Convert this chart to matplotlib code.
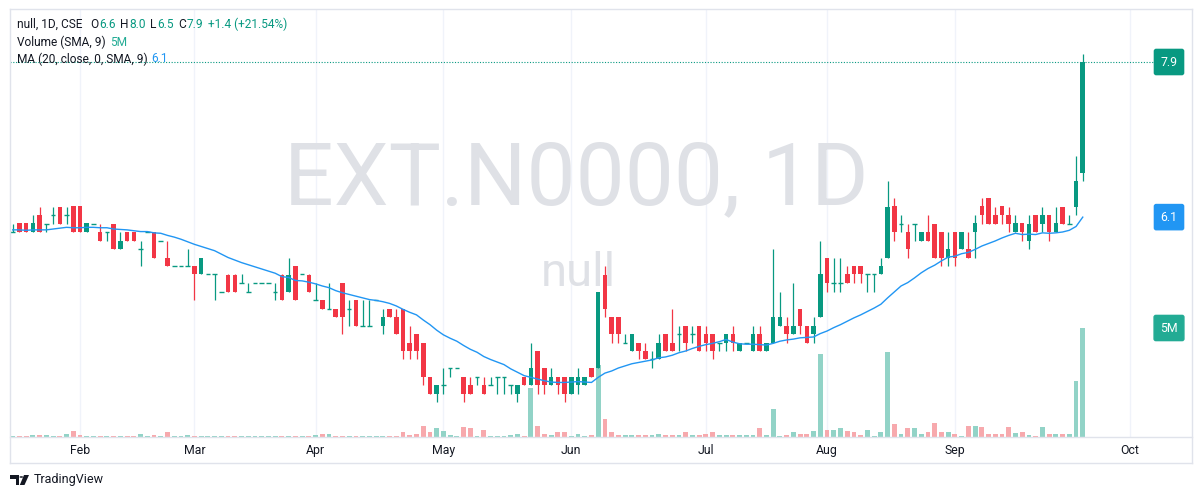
import matplotlib
matplotlib.use("Agg")
import matplotlib.pyplot as plt
from matplotlib.patches import Polygon, Circle
from matplotlib.lines import Line2D
import matplotlib.transforms as mtransforms
import numpy as np

# ---------------------------------------------------------------- data
symbol_line = "null, 1D, CSE"
watermark_main = "EXT.N0000, 1D"
watermark_sub = "null"

opens = [
    5.9, 6.0, 6.0, 5.9, 6.1, 6.0, 6.1, 6.2, 6.1, 6.2,
    6.2, 5.9, 6.0, 5.9, 5.9, 6.0, 5.7, 5.9, 5.9, 5.7,
    5.9, 5.9, 5.8, 5.6, 5.5, 5.5, 5.5, 5.5, 5.4, 5.4,
    5.4, 5.2, 5.4, 5.4, 5.3, 5.2, 5.3, 5.3, 5.3, 5.2,
    5.4, 5.2, 5.5, 5.4, 5.4, 5.1, 5.1, 5.0, 5.0, 5.3,
    5.0, 5.1, 4.8, 4.8, 5.1, 4.8, 5.0, 4.9, 5.0, 4.6,
    4.7, 4.6, 4.2, 4.0, 4.1, 4.3, 4.3, 4.2, 4.1, 4.2,
    4.1, 4.1, 4.2, 4.2, 4.1, 4.0, 4.2, 4.1, 4.5, 4.3,
    4.1, 4.2, 4.2, 4.0, 4.1, 4.1, 4.3, 4.3, 5.4, 4.9,
    4.9, 4.6, 4.5, 4.6, 4.5, 4.4, 4.4, 4.7, 4.6, 4.7,
    4.8, 4.7, 4.8, 4.7, 4.7, 4.6, 4.6, 4.7, 4.5, 4.6,
    4.5, 4.7, 4.5, 4.6, 4.8, 4.8, 4.7, 5.0, 4.8, 4.7,
    4.9, 5.6, 5.3, 5.3, 5.4, 5.5, 5.5, 5.4, 5.4, 5.4,
    5.6, 6.2, 6.0, 5.9, 6.0, 5.8, 5.9, 6.0, 5.9, 5.6,
    5.9, 5.7, 5.7, 5.9, 6.2, 6.3, 6.1, 6.2, 6.1, 5.9,
    6.0, 5.8, 6.1, 6.0, 6.1, 5.9, 6.2, 6.0, 6.2, 6.6,
]
highs = [
    6.0, 6.0, 6.0, 6.1, 6.2, 6.0, 6.2, 6.2, 6.2, 6.2,
    6.2, 6.0, 6.0, 6.0, 5.9, 6.0, 5.9, 5.9, 5.9, 5.8,
    5.9, 5.9, 5.8, 5.8, 5.5, 5.5, 5.7, 5.5, 5.6, 5.4,
    5.4, 5.2, 5.4, 5.4, 5.4, 5.3, 5.3, 5.3, 5.3, 5.3,
    5.4, 5.6, 5.5, 5.4, 5.4, 5.3, 5.1, 5.3, 5.0, 5.3,
    5.1, 5.1, 5.1, 5.1, 5.1, 5.0, 5.0, 5.0, 5.0, 4.8,
    4.7, 4.6, 4.2, 4.1, 4.3, 4.3, 4.3, 4.2, 4.2, 4.2,
    4.2, 4.2, 4.2, 4.2, 4.1, 4.1, 4.2, 4.6, 4.5, 4.3,
    4.3, 4.2, 4.2, 4.2, 4.3, 4.2, 4.3, 5.2, 5.5, 4.9,
    4.9, 4.7, 4.7, 4.6, 4.6, 4.5, 4.7, 4.7, 5.0, 4.8,
    4.8, 4.8, 4.8, 4.8, 4.7, 4.6, 4.7, 4.8, 4.6, 4.6,
    4.8, 4.8, 4.6, 5.7, 5.2, 4.9, 5.3, 5.0, 4.8, 4.9,
    5.8, 5.6, 5.6, 5.6, 5.5, 5.5, 5.5, 5.4, 5.4, 5.6,
    6.5, 6.3, 6.1, 6.0, 6.0, 5.9, 6.1, 6.0, 5.9, 5.9,
    5.9, 5.9, 5.9, 6.1, 6.3, 6.3, 6.2, 6.2, 6.2, 6.1,
    6.0, 6.1, 6.1, 6.2, 6.1, 6.2, 6.2, 6.1, 6.8, 8.0,
]
lows = [
    5.9, 5.9, 5.9, 5.9, 5.9, 5.9, 6.0, 6.0, 6.0, 5.9,
    5.9, 5.9, 6.0, 5.8, 5.8, 5.7, 5.7, 5.8, 5.8, 5.5,
    5.9, 5.6, 5.8, 5.5, 5.5, 5.5, 5.5, 5.1, 5.4, 5.4,
    5.1, 5.2, 5.2, 5.2, 5.3, 5.2, 5.3, 5.3, 5.3, 5.1,
    5.1, 5.2, 5.1, 5.4, 5.2, 5.1, 5.0, 5.0, 4.9, 4.7,
    4.8, 4.8, 4.8, 4.8, 5.1, 4.7, 4.9, 4.7, 4.4, 4.4,
    4.4, 4.1, 4.0, 3.9, 4.0, 4.2, 4.3, 3.9, 4.0, 4.1,
    4.0, 4.1, 4.0, 4.0, 4.0, 3.9, 4.1, 4.1, 4.0, 4.0,
    4.1, 4.0, 3.9, 4.0, 4.0, 4.1, 4.2, 4.3, 4.9, 4.6,
    4.6, 4.6, 4.5, 4.4, 4.4, 4.3, 4.4, 4.5, 4.5, 4.5,
    4.5, 4.6, 4.5, 4.5, 4.4, 4.5, 4.5, 4.5, 4.5, 4.6,
    4.5, 4.5, 4.5, 4.6, 4.8, 4.6, 4.7, 4.7, 4.6, 4.6,
    4.9, 5.2, 5.2, 5.2, 5.3, 5.3, 5.3, 5.2, 5.2, 5.4,
    5.6, 5.8, 5.9, 5.6, 5.8, 5.8, 5.8, 5.6, 5.5, 5.5,
    5.5, 5.7, 5.6, 5.6, 6.0, 6.0, 6.0, 6.0, 5.9, 5.9,
    5.8, 5.7, 5.9, 5.9, 5.8, 5.9, 6.0, 6.0, 6.1, 6.5,
]
closes = [
    5.9, 5.9, 5.9, 6.0, 5.9, 6.0, 6.1, 6.0, 6.1, 5.9,
    5.9, 6.0, 6.0, 5.8, 5.9, 5.7, 5.8, 5.8, 5.8, 5.7,
    5.9, 5.6, 5.8, 5.5, 5.5, 5.5, 5.5, 5.4, 5.6, 5.4,
    5.4, 5.2, 5.2, 5.2, 5.3, 5.2, 5.3, 5.3, 5.3, 5.2,
    5.1, 5.4, 5.1, 5.4, 5.2, 5.1, 5.0, 5.0, 4.9, 4.9,
    5.0, 4.8, 4.8, 4.8, 5.1, 4.9, 4.9, 4.7, 4.5, 4.5,
    4.5, 4.2, 4.0, 4.1, 4.1, 4.3, 4.3, 4.0, 4.0, 4.2,
    4.0, 4.1, 4.2, 4.2, 4.1, 4.1, 4.1, 4.3, 4.1, 4.1,
    4.2, 4.1, 4.0, 4.2, 4.2, 4.2, 4.2, 5.2, 5.0, 4.7,
    4.7, 4.6, 4.7, 4.5, 4.4, 4.4, 4.6, 4.5, 4.5, 4.7,
    4.6, 4.7, 4.5, 4.6, 4.5, 4.6, 4.7, 4.6, 4.6, 4.6,
    4.7, 4.5, 4.6, 4.9, 4.9, 4.7, 4.8, 4.8, 4.6, 4.8,
    5.4, 5.3, 5.3, 5.3, 5.3, 5.4, 5.4, 5.4, 5.4, 5.5,
    6.2, 5.9, 6.0, 5.7, 6.0, 5.9, 5.8, 5.6, 5.6, 5.7,
    5.6, 5.9, 5.6, 6.0, 6.1, 6.0, 6.0, 6.1, 6.0, 6.0,
    5.9, 6.0, 5.9, 6.1, 5.9, 6.0, 6.0, 6.0, 6.5, 7.9,
]
# daily volume, millions of shares
volumes_m = [
    0.05, 0.06, 0.06, 0.07, 0.09, 0.09, 0.05, 0.06, 0.15, 0.28,
    0.07, 0.05, 0.05, 0.06, 0.05, 0.05, 0.05, 0.05, 0.06, 0.12,
    0.06, 0.07, 0.05, 0.23, 0.06, 0.06, 0.07, 0.06, 0.05, 0.05,
    0.05, 0.05, 0.05, 0.05, 0.05, 0.05, 0.05, 0.05, 0.05, 0.05,
    0.05, 0.05, 0.05, 0.05, 0.05, 0.09, 0.12, 0.15, 0.05, 0.05,
    0.05, 0.05, 0.05, 0.05, 0.05, 0.05, 0.05, 0.05, 0.24, 0.09,
    0.12, 0.50, 0.23, 0.42, 0.28, 0.07, 0.05, 0.46, 0.40, 0.05,
    0.34, 0.06, 0.05, 0.05, 0.07, 0.12, 0.05, 2.25, 0.50, 0.14,
    0.09, 0.21, 0.21, 0.06, 0.12, 0.05, 0.09, 3.30, 0.83, 0.22,
    0.10, 0.07, 0.08, 0.07, 0.08, 0.08, 0.16, 0.10, 0.08, 0.07,
    0.22, 0.07, 0.07, 0.12, 0.22, 0.08, 0.08, 0.08, 0.10, 0.08,
    0.10, 0.40, 0.10, 1.30, 0.05, 0.10, 0.22, 0.16, 0.16, 0.28,
    3.80, 0.31, 0.31, 0.42, 0.28, 0.22, 0.10, 0.31, 0.06, 0.25,
    3.90, 0.60, 0.16, 0.42, 0.42, 0.16, 0.25, 0.63, 0.22, 0.25,
    0.12, 0.06, 0.52, 0.52, 0.48, 0.16, 0.16, 0.16, 0.45, 0.19,
    0.22, 0.10, 0.06, 0.45, 0.12, 0.12, 0.12, 0.12, 2.55, 5.00,
]
# closes of the sessions just before the first bar on screen (feed the 20-day average)
prior_closes = [5.9, 6.0, 5.9, 5.9, 6.0, 5.9, 5.8, 5.9, 6.0, 5.9,
                5.9, 6.0, 5.9, 5.9, 6.0, 5.9, 5.9, 6.0, 5.9]

month_labels = ["Feb", "Mar", "Apr", "May", "Jun", "Jul", "Aug", "Sep", "Oct"]
month_index = [10, 27, 45, 64, 83, 103, 121, 140, 166]

MA_LEN = 20

# ---------------------------------------------------------------- style
UP = "#089981"
DOWN = "#F23645"
VOL_UP = "#92d3c7"
VOL_DOWN = "#f7a9ad"
VOL_TAG = "#22ab94"
MA_COLOR = "#2196F3"
TEXT = "#131722"
FRAME = "#e0e3eb"
GRID = "#f0f3fa"
FONT = "Roboto"

W, H, DPI = 1200, 497, 100
plt.rcParams["font.family"] = [FONT, "DejaVu Sans"]

fig = plt.figure(figsize=(W / DPI, H / DPI), dpi=DPI)
fig.patch.set_facecolor("white")


def fx(px):
    return px / W


def fy(py):
    return 1 - py / H


# pane geometry in pixels
P_LEFT, P_RIGHT, P_TOP, P_BOTTOM = 10, 1143, 9, 437
BAR_STEP = 6.73          # pixels per session
FIRST_BAR_X = 12.7       # pixel centre of bar 0
PX_PER_UNIT = 85.0       # pixels per 1.0 of price
REF_PRICE, REF_Y = 7.9, 62.0
VOL_PX_PER_M = 21.8

rect = [fx(P_LEFT), fy(P_BOTTOM), fx(P_RIGHT - P_LEFT), (P_BOTTOM - P_TOP) / H]
axv = fig.add_axes(rect)
ax = fig.add_axes(rect, sharex=axv)
ax.patch.set_visible(False)

n = len(closes)
x = np.arange(n)
o = np.array(opens)
h = np.array(highs)
l = np.array(lows)
c = np.array(closes)
v = np.array(volumes_m)
up = c >= o

xmin = (P_LEFT - FIRST_BAR_X) / BAR_STEP
xmax = (P_RIGHT - FIRST_BAR_X) / BAR_STEP
ymin = REF_PRICE - (P_BOTTOM - REF_Y) / PX_PER_UNIT
ymax = REF_PRICE + (REF_Y - P_TOP) / PX_PER_UNIT
ax.set_xlim(xmin, xmax)
ax.set_ylim(ymin, ymax)
axv.set_ylim(0, (P_BOTTOM - P_TOP) / VOL_PX_PER_M)

# month grid
for mi in month_index:
    axv.axvline(mi, color=GRID, lw=1, zorder=0)

# volume histogram
axv.bar(x, v, width=0.72, color=np.where(up, VOL_UP, VOL_DOWN), linewidth=0, zorder=1)

# candles
body_w = 0.68
col = np.where(up, UP, DOWN)
ax.vlines(x, l, h, colors=col, lw=0.9, zorder=3)
flat = np.isclose(o, c)
ax.bar(x[~flat], np.abs(c - o)[~flat], bottom=np.minimum(o, c)[~flat], width=body_w,
       color=col[~flat], linewidth=0, zorder=4)
ax.hlines(o[flat], x[flat] - body_w / 2, x[flat] + body_w / 2, colors=col[flat], lw=1.0, zorder=4)

# 20-session simple moving average of close
full = np.concatenate([np.array(prior_closes), c])
ma = np.convolve(full, np.ones(MA_LEN) / MA_LEN, mode="valid")
ax.plot(x, ma[-n:], color=MA_COLOR, lw=1.0, zorder=5)

# last price line
last = closes[-1]
x_ext = (1153 - FIRST_BAR_X) / BAR_STEP
ax.plot([xmin, x_ext], [last, last], color=UP, lw=0.8, ls=(0, (1, 1.5)), clip_on=False, zorder=2)

for a in (ax, axv):
    for s in a.spines.values():
        s.set_visible(False)
    a.tick_params(length=0)
    a.set_yticks([])
axv.set_xticks(month_index)
axv.set_xticklabels(month_labels, fontsize=8.8, color=TEXT)
axv.tick_params(axis="x", pad=5)
plt.setp(ax.get_xticklabels(), visible=False)

# watermark
fig.text(fx(576), fy(180), watermark_main, fontsize=63, color="#dfe1e6",
         ha="center", va="center", zorder=0)
fig.text(fx(578), fy(273), watermark_sub, fontsize=34, color="#dfe1e6",
         ha="center", va="center", zorder=0)

# frame lines
frame_kw = dict(transform=fig.transFigure, color=FRAME, lw=1)
fig.add_artist(Line2D([fx(10), fx(1192)], [fy(9), fy(9)], **frame_kw))
fig.add_artist(Line2D([fx(10), fx(1192)], [fy(463), fy(463)], **frame_kw))
fig.add_artist(Line2D([fx(10), fx(1192)], [fy(437), fy(437)], **frame_kw))
fig.add_artist(Line2D([fx(10), fx(10)], [fy(9), fy(463)], **frame_kw))
fig.add_artist(Line2D([fx(1192), fx(1192)], [fy(9), fy(463)], **frame_kw))

# price-scale tags
price_tr = mtransforms.blended_transform_factory(fig.transFigure, ax.transData)
vol_tr = mtransforms.blended_transform_factory(fig.transFigure, axv.transData)


def tag(y, label, color, tr):
    fig.text(fx(1169), y, label, transform=tr, ha="center", va="center",
             fontsize=8.8, color="white",
             bbox=dict(boxstyle="round,pad=0.5,rounding_size=0.15", fc=color, ec=color))


tag(last, f"{last:.1f}", UP, price_tr)
tag(ma[-1], f"{ma[-1]:.1f}", MA_COLOR, price_tr)
tag(v[-1], f"{v[-1]:.0f}M", VOL_TAG, vol_tr)

# legend header, laid out left to right from measured text widths
HDR_SIZE = 8.6
fig.canvas.draw()
renderer = fig.canvas.get_renderer()


def segments(x0, y0, parts):
    xp = x0
    for txt, color, gap in parts:
        t = fig.text(fx(xp), fy(y0), txt, color=color, fontsize=HDR_SIZE, ha="left", va="center")
        xp += t.get_window_extent(renderer=renderer).width + gap


chg = closes[-1] - closes[-2]
pct = chg / closes[-2] * 100
segments(17, 24, [
    (symbol_line, TEXT, 8),
    ("O", TEXT, 0.5), (f"{opens[-1]:.1f}", UP, 4.5),
    ("H", TEXT, 0.5), (f"{highs[-1]:.1f}", UP, 4.5),
    ("L", TEXT, 0.5), (f"{lows[-1]:.1f}", UP, 4.5),
    ("C", TEXT, 0.5), (f"{closes[-1]:.1f}", UP, 5),
    (f"+{chg:.1f} (+{pct:.2f}%)", UP, 0),
])
segments(17, 42, [("Volume (SMA, 9)", TEXT, 4), (f"{v[-1]:.0f}M", VOL_TAG, 0)])
segments(17, 59, [("MA (20, close, 0, SMA, 9)", TEXT, 4), (f"{ma[-1]:.1f}", MA_COLOR, 0)])

# brand mark
logo_kw = dict(transform=fig.transFigure, color=TEXT, lw=0)
fig.add_artist(Polygon([[fx(10), fy(475)], [fx(19), fy(475)], [fx(19), fy(485)],
                        [fx(15.5), fy(485)], [fx(15.5), fy(478.5)], [fx(10), fy(478.5)]], **logo_kw))
fig.add_artist(Polygon([[fx(24), fy(475)], [fx(29), fy(475)], [fx(24.5), fy(485)],
                        [fx(19.8), fy(485)]], **logo_kw))
fig.add_artist(Circle((fx(21.3), fy(477)), 1.9 / W, transform=fig.transFigure, color=TEXT, lw=0))
fig.text(fx(34), fy(480), "TradingView", fontsize=9, color=TEXT, ha="left", va="center")

fig.savefig("out.png", dpi=DPI, facecolor="white")
